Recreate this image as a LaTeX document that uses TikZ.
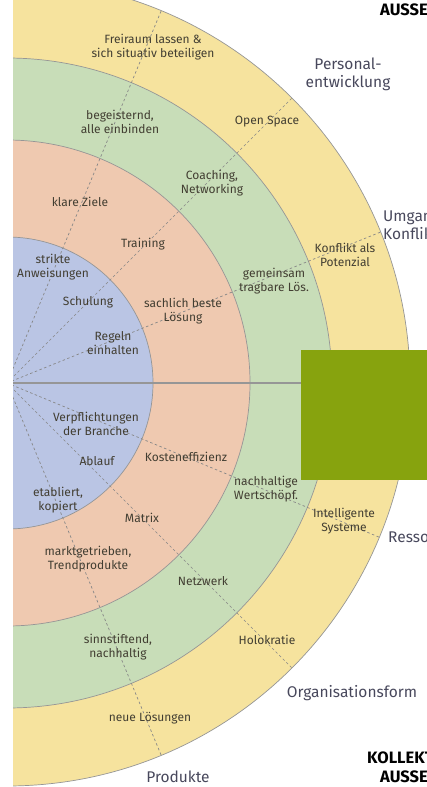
\documentclass[tikz,border=0pt]{standalone}
\usepackage{fontspec}
\setmainfont{Fira Sans}
\definecolor{yel}{RGB}{246,227,158}
\definecolor{grn}{RGB}{200,221,184}
\definecolor{pnk}{RGB}{239,201,176}
\definecolor{blu}{RGB}{186,197,228}
\definecolor{olive}{RGB}{135,163,14}
\definecolor{ringline}{RGB}{150,150,150}
\definecolor{lbl}{RGB}{66,62,50}
\definecolor{outer}{RGB}{72,72,92}
\tikzset{
  ring/.style={draw=ringline,line width=0.7pt},
  dashline/.style={draw=ringline!90!black,line width=0.7pt,dash pattern=on 2.5pt off 2.5pt},
  lab/.style={inner sep=0pt,align=center,text=lbl,font=\fontsize{12}{13.5}\selectfont},
  olab/.style={inner sep=0pt,align=center,text=outer,font=\fontsize{15.5}{18}\selectfont},
  blab/.style={inner sep=0pt,anchor=west,text=black,font=\fontsize{16.5}{18}\selectfont\bfseries},
}
\begin{document}
\begin{tikzpicture}[x=1pt,y=-1pt]
\useasboundingbox (0,0) rectangle (427,787);
\coordinate (C) at (7,383);
\begin{scope}
\clip (13,0) rectangle (427,787);
\filldraw[ring,fill=yel] (C) circle (403pt);
\filldraw[ring,fill=grn] (C) circle (325pt);
\filldraw[ring,fill=pnk] (C) circle (243pt);
\filldraw[ring,fill=blu] (C) circle (146pt);
\foreach \a in {67.5,45,22,-22.5,-45,-67.5}
  \draw[dashline] (C) -- ++(\a:403pt);
\draw[ringline,line width=1.2pt] (C) -- (301,383);
\end{scope}
\fill[olive] (301,350) rectangle (427,480);
% upper half labels
\node[lab] (l1) at (153,47) {Freiraum lassen \&\\sich situativ beteiligen};
\node[lab] (l2) at (120,122) {begeisternd,\\alle einbinden};
\node[lab] (l3) at (212,183) {Coaching,\\Networking};
\node[lab] (l4) at (267,122) {Open Space};
\node[olab] (o1) at (348,74) {Personal-\\entwicklung};
\node[lab] (l5) at (80,202) {klare Ziele};
\node[lab] (l6) at (143,244) {Training};
\node[lab] (l7) at (53,267) {strikte\\Anweisungen};
\node[lab] (l8) at (88,302) {Schulung};
\node[lab] (l9) at (183,311) {sachlich beste\\Lösung};
\node[lab] (l10) at (113,343) {Regeln\\einhalten};
\node[lab] (l11) at (274,281) {gemeinsam\\tragbare Lös.};
\node[lab] (l12) at (345,255) {Konflikt als\\Potenzial};
\node[olab,anchor=west,align=left] (o2) at (383,224.5) {Umgang mit\\Konflikten};
% lower half labels
\node[lab] (l13) at (96,424) {Verpflichtungen\\der Branche};
\node[lab] (l14) at (97,461) {Ablauf};
\node[lab] (l15) at (186,457) {Kosteneffizienz};
\node[lab] (l16) at (58,500) {etabliert,\\kopiert};
\node[lab] (l17) at (142,518) {Matrix};
\node[lab] (l18) at (266,489) {nachhaltige\\Wertschöpf.};
\node[lab] (l19) at (344,521) {Intelligente\\Systeme};
\node[olab,anchor=west] (o3) at (388,537) {Ressourcen};
\node[lab] (l20) at (88,559) {marktgetrieben,\\Trendprodukte};
\node[lab] (l21) at (203,581) {Netzwerk};
\node[lab] (l22) at (118,647) {sinnstiftend,\\nachhaltig};
\node[lab] (l23) at (267,640) {Holokratie};
\node[olab] (o4) at (352,693) {Organisationsform};
\node[lab] (l24) at (150,718) {neue Lösungen};
\node[olab] (o5) at (178,777) {Produkte};
\node[blab] (b1) at (380,10) {AUSSEN};
\node[blab] (b2) at (367,758) {KOLLEKTIV};
\node[blab] (b3) at (380,777) {AUSSEN};
\end{tikzpicture}
\end{document}
